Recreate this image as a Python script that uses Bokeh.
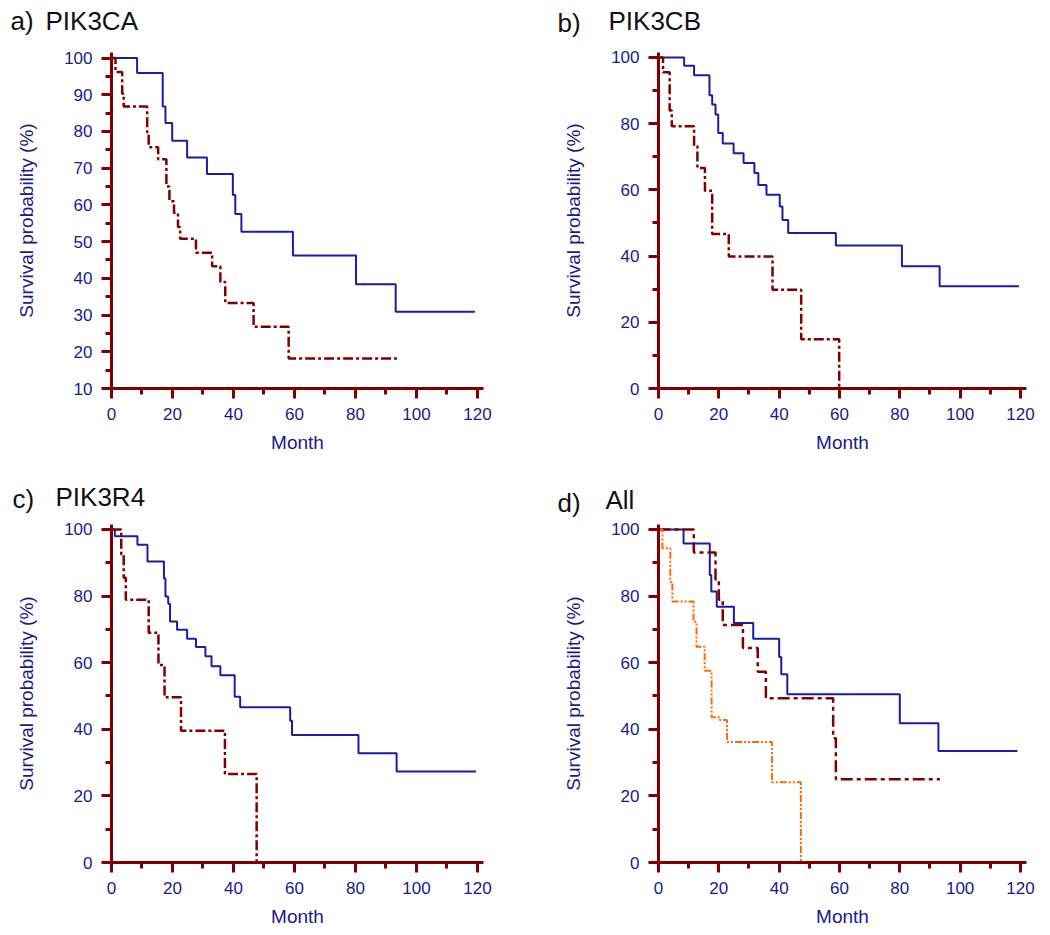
from bokeh.plotting import figure
from bokeh.layouts import column, row
from bokeh.models import Range1d, FixedTicker, Label
from bokeh.embed import file_html
from bokeh.resources import INLINE

# ---------------- data ----------------
x_major = [0, 20, 40, 60, 80, 100, 120]
x_minor = [10, 30, 50, 70, 90, 110]

# a) PIK3CA
a_blue_t = [8.4, 16.8, 17.7, 19.9, 24.8, 31.3, 39.8, 40.6, 42.6, 59.5, 80.2, 93.2]
a_blue_s = [95.9, 86.8, 82.3, 77.5, 72.9, 68.4, 62.7, 57.5, 52.7, 46.2, 38.4, 30.9]
a_blue_end = 119.2
a_red_t = [1.3, 3.5, 4.0, 11.7, 12.2, 15.3, 18.0, 19.0, 20.5, 21.8, 22.5, 27.7, 33.0, 35.7, 37.3, 46.6, 58.1]
a_red_s = [96.2, 90.3, 86.8, 79.8, 75.7, 72.4, 65.0, 61.0, 57.8, 54.0, 50.8, 47.0, 43.3, 39.0, 33.3, 26.8, 18.2]
a_red_end = 93.6

# b) PIK3CB
b_blue_t = [8.5, 11.8, 16.9, 17.8, 18.9, 19.8, 21.3, 24.9, 28.2, 31.8, 33.1, 35.8, 40.2, 41.1, 43.0, 58.8, 80.7, 93.2]
b_blue_s = [97.5, 94.6, 88.6, 85.8, 82.8, 77.2, 74.0, 71.1, 68.1, 65.1, 61.5, 58.5, 55.0, 50.9, 47.0, 43.2, 36.9, 30.9]
b_blue_end = 119.5
b_red_t = [1.5, 3.7, 4.4, 11.8, 12.9, 15.4, 17.8, 23.3, 37.8, 47.3, 59.9]
b_red_s = [95.5, 84.0, 79.2, 73.2, 66.6, 59.7, 46.7, 39.9, 29.8, 14.9, 0.0]

# c) PIK3R4
c_blue_t = [1.1, 8.5, 11.8, 17.2, 17.7, 18.6, 19.2, 21.5, 24.8, 27.7, 30.8, 32.8, 35.7, 40.4, 42.2, 58.6, 59.2, 81.0, 93.5]
c_blue_s = [98.0, 95.4, 90.4, 85.3, 79.9, 77.7, 72.4, 69.9, 67.2, 64.7, 61.9, 58.9, 56.2, 49.8, 46.6, 42.6, 38.3, 32.8, 27.3]
c_blue_end = 119.5
c_red_t = [3.2, 4.0, 4.7, 12.2, 15.4, 17.4, 22.8, 37.2, 47.6]
c_red_s = [92.5, 85.5, 78.9, 69.0, 59.3, 49.6, 39.6, 26.6, 0.0]

# d) All
d_blue_t = [8.3, 17.0, 17.5, 19.3, 25.0, 31.4, 40.0, 40.7, 42.7, 80.0, 92.8]
d_blue_s = [95.8, 86.3, 81.4, 76.8, 71.9, 67.2, 61.7, 56.5, 50.5, 41.8, 33.5]
d_blue_end = 119.0
d_red_t = [11.7, 18.9, 20.0, 21.3, 28.0, 32.9, 35.6, 57.9, 58.8]
d_red_s = [93.1, 85.0, 78.9, 71.3, 64.4, 57.3, 49.3, 37.3, 25.0]
d_red_end = 93.3
d_orange_t = [1.3, 3.9, 4.6, 11.6, 12.6, 15.3, 17.6, 20.3, 22.7, 37.6, 47.2]
d_orange_s = [94.4, 84.2, 78.4, 72.3, 64.8, 57.6, 43.6, 42.8, 36.2, 24.1, 0.0]

# panel headings
heads_a = ["a)", "PIK3CA"]
heads_b = ["b)", "PIK3CB"]
heads_c = ["c)", "PIK3R4"]
heads_d = ["d)", "All"]

# ---------------- styling ----------------
AXIS_RED = "#800000"
BLUE = "#1c1ca8"
TXT_BLUE = "#1a1a8c"
RED = "#800000"
ORANGE = "#ff6a00"
FONT = "Liberation Sans"
X_MAX = 122.0
Y_TOP = 101.5
HEAD_SIZE = 26
MID_SHIFT = 9.5   # distance from baseline up to the text's vertical middle


def km_xy(times, surv, end=None):
    xs = [0.0] + list(times)
    ys = [100.0] + list(surv)
    if end is not None:
        xs.append(end)
        ys.append(ys[-1])
    return xs, ys


def make_panel(y_lo, y_major, y_minor, bl, bt, br, bb, fw, fh):
    p = figure(frame_width=fw, frame_height=fh,
               x_range=Range1d(0, X_MAX), y_range=Range1d(y_lo, Y_TOP),
               output_backend="svg", toolbar_location=None,
               min_border_left=bl, min_border_top=bt,
               min_border_right=br, min_border_bottom=bb,
               background_fill_color="white", border_fill_color="white")
    p.outline_line_color = None
    p.xgrid.visible = False
    p.ygrid.visible = False
    p.xaxis.ticker = FixedTicker(ticks=x_major, minor_ticks=x_minor)
    p.yaxis.ticker = FixedTicker(ticks=y_major, minor_ticks=y_minor)
    p.xaxis.axis_label = "Month"
    p.yaxis.axis_label = "Survival probability (%)"
    for ax in (p.xaxis[0], p.yaxis[0]):
        ax.axis_line_color = AXIS_RED
        ax.axis_line_width = 3
        ax.major_tick_line_color = AXIS_RED
        ax.major_tick_line_width = 3
        ax.minor_tick_line_color = AXIS_RED
        ax.minor_tick_line_width = 3
        ax.major_tick_in = 0
        ax.major_tick_out = 10
        ax.minor_tick_in = 0
        ax.minor_tick_out = 6
        ax.major_label_text_color = TXT_BLUE
        ax.major_label_text_font = FONT
        ax.major_label_text_font_size = "17px"
        ax.major_label_standoff = 9
        ax.axis_label_text_color = TXT_BLUE
        ax.axis_label_text_font = FONT
        ax.axis_label_text_font_size = "19px"
        ax.axis_label_text_font_style = "normal"
    p.xaxis.axis_label_standoff = 9
    p.yaxis.axis_label_standoff = 24
    return p


def make_header(width, height, texts, xs, baselines):
    h = figure(width=width, height=height, x_range=Range1d(0, width), y_range=Range1d(0, height),
               x_axis_type=None, y_axis_type=None, output_backend="svg",
               toolbar_location=None, min_border=0,
               background_fill_color="white", border_fill_color="white")
    h.outline_line_color = None
    for text, px, py in zip(texts, xs, baselines):
        h.add_layout(Label(x=px, y=height - (py - MID_SHIFT), text=text, text_font=FONT,
                           text_font_size=f"{HEAD_SIZE}px", text_color="#111111",
                           text_baseline="middle", text_align="left"))
    return h


def curve(p, t, s, end, color, width, dash):
    xs, ys = km_xy(t, s, end)
    p.step(xs, ys, mode="after", line_color=color, line_width=width, line_dash=dash)


FW_L, FW_R = 372, 368
FH_T, FH_B = 336, 338
BL_L, BL_R = 111, 145
BR_L, BR_R = 30, 10
W_L = BL_L + FW_L + BR_L
W_R = BL_R + FW_R + BR_R
HEAD_T, HEAD_B = 42, 58
BT_T, BB_T = 10, 72
BT_B, BB_B = 6, 69

ya_major = list(range(10, 101, 10))
ya_minor = list(range(15, 100, 10))
y_major = list(range(0, 101, 20))
y_minor = list(range(10, 100, 20))

# row 1
ha = make_header(W_L, HEAD_T, heads_a, [10, 45], [30, 30])
hb = make_header(W_R, HEAD_T, heads_b, [557 - W_L, 608 - W_L], [32, 30])

pa = make_panel(10, ya_major, ya_minor, BL_L, BT_T, BR_L, BB_T, FW_L, FH_T)
curve(pa, a_blue_t, a_blue_s, a_blue_end, BLUE, 2, "solid")
curve(pa, a_red_t, a_red_s, a_red_end, RED, 2.5, "10 3 3 3")

pb = make_panel(0, y_major, y_minor, BL_R, BT_T, BR_R, BB_T, FW_R, FH_T)
curve(pb, b_blue_t, b_blue_s, b_blue_end, BLUE, 2, "solid")
curve(pb, b_red_t, b_red_s, None, RED, 2.5, "10 3 3 3")

# row 2
row2_top = HEAD_T + BT_T + FH_T + BB_T
hc = make_header(W_L, HEAD_B, heads_c, [12, 55], [508 - row2_top, 506 - row2_top])
hd = make_header(W_R, HEAD_B, heads_d, [557 - W_L, 605 - W_L], [512 - row2_top, 509 - row2_top])

pc = make_panel(0, y_major, y_minor, BL_L, BT_B, BR_L, BB_B, FW_L, FH_B)
curve(pc, c_blue_t, c_blue_s, c_blue_end, BLUE, 2, "solid")
curve(pc, c_red_t, c_red_s, None, RED, 2.5, "10 3 3 3")

pd_ = make_panel(0, y_major, y_minor, BL_R, BT_B, BR_R, BB_B, FW_R, FH_B)
curve(pd_, d_blue_t, d_blue_s, d_blue_end, BLUE, 2, "solid")
curve(pd_, d_red_t, d_red_s, d_red_end, RED, 2.5, "12 4 4 4")
curve(pd_, d_orange_t, d_orange_s, None, ORANGE, 2, "7 2 2 2 2 2")

layout = column(row(ha, hb), row(pa, pb), row(hc, hd), row(pc, pd_))
open("out.html", "w").write(file_html(layout, INLINE))
